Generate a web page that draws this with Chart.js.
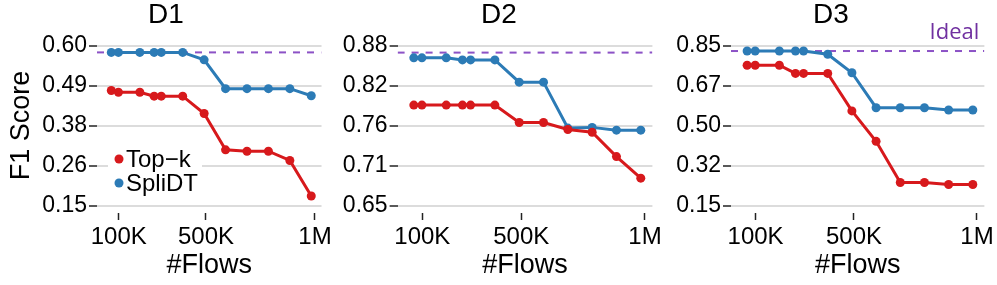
<!DOCTYPE html>
<html>
<head>
<meta charset="utf-8">
<script src="https://cdn.jsdelivr.net/npm/chart.js@4.4.1/dist/chart.umd.min.js"></script>
<style>
  body { margin: 0; background: #fff; }
  #wrap { position: relative; width: 997px; height: 285px; overflow: hidden; }
  #wrap canvas { position: absolute; top: 0; }
</style>
</head>
<body>
<div id="wrap">
  <canvas id="d1"></canvas>
  <canvas id="d2"></canvas>
  <canvas id="d3"></canvas>
</div>
<script>
// Number of flows (x values, shared by the three panels)
const flows = [65536, 98304, 196608, 262144, 294912, 393216, 491520, 589824, 688128, 786432, 884736, 983040];
const xTickValues = [100000, 500000, 1000000];
const xTickLabels = ['100K', '500K', '1M'];
const seriesNames = ['Top−k', 'SpliDT'];

// D1
const topkD1   = [0.475, 0.470, 0.470, 0.459, 0.459, 0.459, 0.410, 0.308, 0.304, 0.304, 0.278, 0.178];
const splidtD1 = [0.582, 0.582, 0.582, 0.582, 0.582, 0.582, 0.561, 0.480, 0.480, 0.480, 0.480, 0.460];
const idealD1 = 0.582;
const yTicksD1 = [0.15, 0.2625, 0.375, 0.4875, 0.60];
const yLabelsD1 = ['0.15', '0.26', '0.38', '0.49', '0.60'];

// D2
const topkD2   = [0.795, 0.795, 0.795, 0.795, 0.795, 0.795, 0.770, 0.770, 0.760, 0.756, 0.721, 0.690];
const splidtD2 = [0.863, 0.863, 0.863, 0.860, 0.860, 0.860, 0.828, 0.828, 0.762, 0.763, 0.759, 0.759];
const idealD2 = 0.8705;
const yTicksD2 = [0.65, 0.7075, 0.765, 0.8225, 0.88];
const yLabelsD2 = ['0.65', '0.71', '0.76', '0.82', '0.88'];

// D3
const topkD3   = [0.766, 0.766, 0.766, 0.730, 0.730, 0.730, 0.566, 0.433, 0.253, 0.253, 0.244, 0.244];
const splidtD3 = [0.828, 0.828, 0.828, 0.828, 0.828, 0.814, 0.733, 0.580, 0.580, 0.580, 0.570, 0.570];
const idealD3 = 0.828;
const yTicksD3 = [0.15, 0.325, 0.50, 0.675, 0.85];
const yLabelsD3 = ['0.15', '0.32', '0.50', '0.67', '0.85'];

const RED = '#d7191c';
const BLUE = '#2c7bb6';
const PURPLE = '#8c52c6';
const FONT = '"Liberation Sans", Arial, sans-serif';
const X_MIN = 0, X_MAX = 1030000;

Chart.defaults.font.family = FONT;
Chart.defaults.color = '#000';

// panel title, centred over the whole panel rather than the plot
const panelTitle = {
  id: 'panelTitle',
  afterDraw(chart, args, opts) {
    const ctx = chart.ctx;
    ctx.save();
    ctx.font = '28px ' + FONT;
    ctx.fillStyle = '#000';
    ctx.textAlign = 'center';
    ctx.textBaseline = 'middle';
    ctx.fillText(opts.text, opts.x, 15);
    ctx.restore();
  }
};

// legend drawn inside the plot (only first panel)
const insideLegend = {
  id: 'insideLegend',
  beforeDatasetsDraw(chart) {
    const { ctx, chartArea } = chart;
    const items = chart.data.datasets.slice(0, 2);
    ctx.save();
    ctx.font = '24px ' + FONT;
    const x0 = chartArea.left + 22;
    const y0 = chartArea.top + 121;
    const w = Math.max(...items.map(d => ctx.measureText(d.label).width));
    ctx.fillStyle = '#fff';
    ctx.fillRect(x0 - 11, y0 - 12, w + 22, 48);
    items.forEach((d, i) => {
      const y = y0 + i * 24;
      ctx.fillStyle = d.borderColor;
      ctx.beginPath();
      ctx.arc(x0, y, 4.5, 0, Math.PI * 2);
      ctx.fill();
      ctx.fillStyle = '#000';
      ctx.textBaseline = 'middle';
      ctx.fillText(d.label, x0 + 7, y + 1);
    });
    ctx.restore();
  }
};

// "Ideal" text above the dashed line (only last panel)
const idealLabel = {
  id: 'idealLabel',
  afterDraw(chart) {
    const { ctx, chartArea, scales } = chart;
    const y = scales.y.getPixelForValue(chart.data.datasets[2].data[0].y);
    ctx.save();
    ctx.font = '22px "Open Sans", sans-serif';
    ctx.fillStyle = '#7030a0';
    ctx.textAlign = 'right';
    ctx.textBaseline = 'alphabetic';
    ctx.fillText('Ideal', chartArea.right - 5, y - 12);
    ctx.restore();
  }
};

function makePanel(p) {
  const canvas = document.getElementById(p.id);
  canvas.width = p.width;
  canvas.height = 285;
  canvas.style.left = p.left + 'px';

  const lineSet = (label, values, color) => ({
    label,
    data: flows.map((x, i) => ({ x, y: values[i] })),
    borderColor: color,
    backgroundColor: color,
    borderWidth: 3,
    pointRadius: 4.5,
    pointBorderWidth: 0,
    tension: 0
  });

  return new Chart(canvas, {
    type: 'line',
    data: {
      datasets: [
        lineSet(seriesNames[0], p.topk, RED),
        lineSet(seriesNames[1], p.splidt, BLUE),
        {
          label: 'Ideal',
          data: [{ x: X_MIN, y: p.ideal }, { x: X_MAX, y: p.ideal }],
          borderColor: PURPLE,
          borderWidth: 2,
          borderDash: [7, 7],
          pointRadius: 0,
          order: 5
        }
      ]
    },
    options: {
      responsive: false,
      animation: false,
      devicePixelRatio: 1,
      layout: { padding: { left: 0, right: p.padR, top: 38, bottom: 0 } },
      plugins: {
        legend: { display: false },
        tooltip: { enabled: false },
        panelTitle: { text: p.title, x: p.titleX - p.left }
      },
      scales: {
        x: {
          type: 'linear',
          min: X_MIN,
          max: X_MAX,
          afterBuildTicks: s => { s.ticks = xTickValues.map(v => ({ value: v })); },
          afterFit: s => { s.height = 72; },
          ticks: {
            autoSkip: false,
            maxRotation: 0,
            padding: 3,
            color: '#000',
            font: { size: 24 },
            callback: (v, i) => xTickLabels[i]
          },
          grid: { drawOnChartArea: false, drawTicks: true, tickLength: 7, tickColor: '#222', tickWidth: 1.5 },
          border: { display: false },
          title: {
            display: true,
            text: '#Flows',
            color: '#000',
            font: { size: 27, lineHeight: 1 },
            padding: { top: 0, bottom: 6 }
          }
        },
        y: {
          min: p.yMin,
          max: p.yMax,
          afterBuildTicks: s => { s.ticks = p.yTicks.map(v => ({ value: v })); },
          afterFit: s => { s.width = p.yWidth; },
          ticks: {
            padding: 2,
            color: '#000',
            font: { size: 23 },
            callback: (v, i) => p.yLabels[i]
          },
          grid: { color: '#dcdcdc', lineWidth: 2, tickColor: '#222', tickLength: 8, tickWidth: 1.5 },
          border: { display: false },
          title: {
            display: p.yTitle,
            text: 'F1 Score',
            color: '#000',
            font: { size: 27, lineHeight: 1 },
            padding: { top: 8, bottom: 0 }
          }
        }
      }
    },
    plugins: [panelTitle].concat(p.plugins)
  });
}

makePanel({
  id: 'd1', title: 'D1', titleX: 166, left: 0, width: 340, padR: 18.5, yWidth: 97, yTitle: true,
  topk: topkD1, splidt: splidtD1, ideal: idealD1,
  yTicks: yTicksD1, yLabels: yLabelsD1, yMin: 0.1303, yMax: 0.6225,
  plugins: [insideLegend]
});
makePanel({
  id: 'd2', title: 'D2', titleX: 499, left: 330, width: 340, padR: 17.6, yWidth: 67.6, yTitle: false,
  topk: topkD2, splidt: splidtD2, ideal: idealD2,
  yTicks: yTicksD2, yLabels: yLabelsD2, yMin: 0.6399, yMax: 0.8915,
  plugins: []
});
makePanel({
  id: 'd3', title: 'D3', titleX: 831, left: 660, width: 337, padR: 12, yWidth: 71, yTitle: false,
  topk: topkD3, splidt: splidtD3, ideal: idealD3,
  yTicks: yTicksD3, yLabels: yLabelsD3, yMin: 0.1194, yMax: 0.885,
  plugins: [idealLabel]
});
</script>
</body>
</html>
